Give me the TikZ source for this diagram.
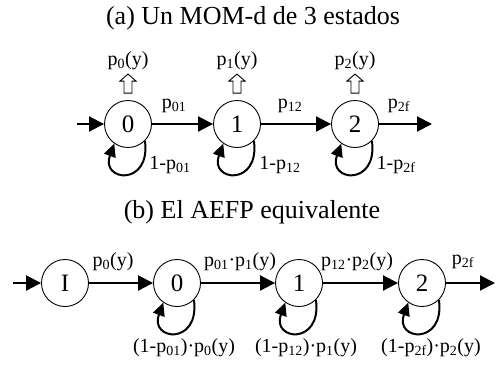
\documentclass[tikz,border=0pt]{standalone}
\usepackage{fontspec}
\setmainfont{Liberation Serif}
\usetikzlibrary{arrows.meta}
\newcommand{\sbs}[1]{\textsubscript{#1}}
\begin{document}
\begin{tikzpicture}[x=1pt,y=-1pt,
  stt/.style={circle,draw,line width=0.9pt,minimum size=47pt,inner sep=0pt,font=\fontsize{25}{25}\selectfont},
  tr/.style={line width=2pt,-{Triangle[length=15pt,width=15pt]}},
  lp/.style={line width=2pt,-{Triangle[length=13pt,width=12pt]}},
  lb/.style={font=\fontsize{20}{22}\selectfont,inner sep=0pt},
  ttl/.style={font=\fontsize{26}{28}\selectfont,inner sep=0pt},
  hollow/.style={draw,line width=0.9pt,fill=white}]
\useasboundingbox (0,0) rectangle (497,367);
% ---------- (a) ----------
\node[ttl] (ta) at (253,18) {(a) Un MOM-d de 3 estados};
\node[stt] (a0) at (128,124) {0};
\node[stt] (a1) at (237,124) {1};
\node[stt] (a2) at (355,124) {2};
\coordinate (ain) at (77,124);
\coordinate (aout) at (432,124);
\draw[tr] (ain) -- (a0);
\draw[tr] (a0) -- (a1);
\draw[tr] (a1) -- (a2);
\draw[tr] (a2) -- (aout);
\foreach \n in {a0,a1,a2}{
  \draw[hollow,shift={(\n.north)}] (-4,-7) -- (-4,-19) -- (-8,-19) -- (0,-26) -- (8,-19) -- (4,-19) -- (4,-7) -- cycle;
  \draw[lp] (\n.-45) .. controls +(6,46) and +(-14,38) .. (\n.-125);
}
\node[lb] (o0) at ([yshift=39pt]a0.north) {p\sbs{0}(y)};
\node[lb] (o1) at ([yshift=39pt]a1.north) {p\sbs{1}(y)};
\node[lb] (o2) at ([yshift=39pt]a2.north) {p\sbs{2}(y)};
\node[lb] (l01) at (174,106) {p\sbs{01}};
\node[lb] (l12) at (290,106) {p\sbs{12}};
\node[lb] (l2f) at (399,106) {p\sbs{2f}};
\node[lb] (s0) at (170,165) {1-p\sbs{01}};
\node[lb] (s1) at (280,165) {1-p\sbs{12}};
\node[lb] (s2) at (396,165) {1-p\sbs{2f}};
% ---------- (b) ----------
\node[ttl] (tb) at (252,212) {(b) El AEFP equivalente};
\node[stt] (bI) at (65,283) {I};
\node[stt] (b0) at (177,283) {0};
\node[stt] (b1) at (299,283) {1};
\node[stt] (b2) at (422,283) {2};
\coordinate (bin) at (13,283);
\coordinate (bout) at (495,283);
\draw[tr] (bin) -- (bI);
\draw[tr] (bI) -- (b0);
\draw[tr] (b0) -- (b1);
\draw[tr] (b1) -- (b2);
\draw[tr] (b2) -- (bout);
\foreach \n in {b0,b1,b2}{
  \draw[lp] (\n.-45) .. controls +(6,46) and +(-14,38) .. (\n.-125);
}
\node[lb] (m0) at (113,262) {p\sbs{0}(y)};
\node[lb] (m1) at (240,262) {p\sbs{01}·p\sbs{1}(y)};
\node[lb] (m2) at (357,262) {p\sbs{12}·p\sbs{2}(y)};
\node[lb] (m3) at (463,262) {p\sbs{2f}};
\node[lb] (r0) at (184,348) {(1-p\sbs{01})·p\sbs{0}(y)};
\node[lb] (r1) at (306,348) {(1-p\sbs{12})·p\sbs{1}(y)};
\node[lb] (r2) at (431,348) {(1-p\sbs{2f})·p\sbs{2}(y)};
\end{tikzpicture}
\end{document}
